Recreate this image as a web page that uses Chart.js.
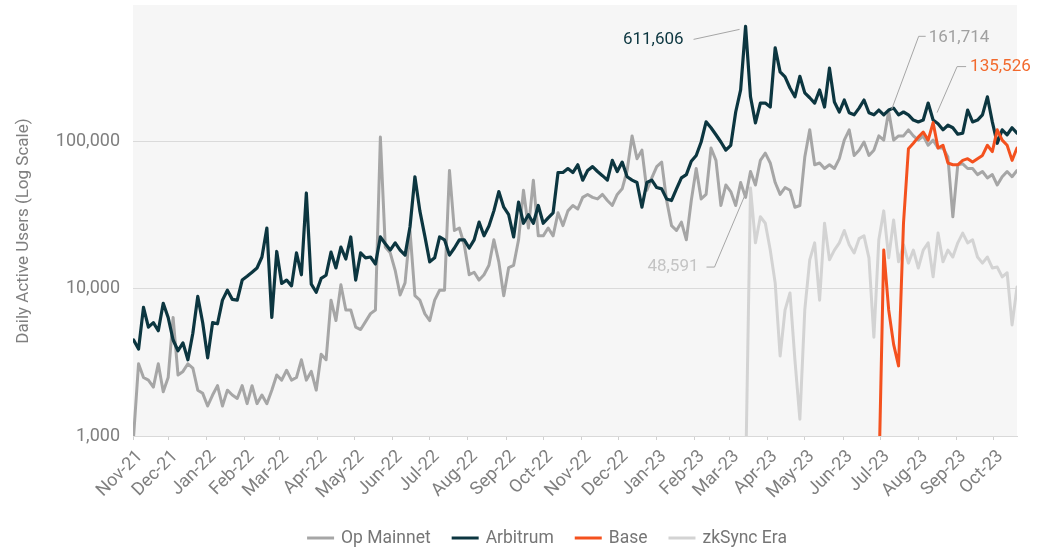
<!DOCTYPE html>
<html>
<head>
<meta charset="utf-8">
<script src="https://cdn.jsdelivr.net/npm/chart.js@4.4.1/dist/chart.umd.min.js"></script>
<style>
  html, body { margin: 0; padding: 0; background: #ffffff; }
  #wrap { width: 1047px; height: 552px; position: relative; }
</style>
</head>
<body>
<div id="wrap"><canvas id="chart" width="1047" height="552"></canvas></div>
<script>
// ---------------- DATA ----------------
const seriesNames = ['Op Mainnet', 'Arbitrum', 'Base', 'zkSync Era'];
const monthTickLabels = ['Nov-21','Dec-21','Jan-22','Feb-22','Mar-22','Apr-22','May-22','Jun-22','Jul-22','Aug-22','Sep-22','Oct-22',
                         'Nov-22','Dec-22','Jan-23','Feb-23','Mar-23','Apr-23','May-23','Jun-23','Jul-23','Aug-23','Sep-23','Oct-23'];
const yTickValues = [1000, 10000, 100000];
const axisOrigin = '2021-11-01';
const firstSampleDate = '2021-11-03';
const sampleStepDays = 4;

const opMainnet = [
  1000,3100,2500,2400,2150,3100,2000,2500,6400,2600,
  2750,3100,2900,2050,1950,1600,1900,2200,1600,2050,
  1900,1800,2200,1660,2200,1660,1900,1660,2050,2600,
  2400,2800,2400,2500,3300,2400,2750,2050,3600,3300,
  8400,6100,10700,7200,7200,5500,5300,6000,6800,7200,
  108000,19300,17600,13400,9100,11000,25000,9000,8400,6800,
  6100,8400,9800,9800,64000,25000,26000,20000,12500,13000,
  11500,12500,14500,21600,15300,9000,14000,14500,21600,47000,
  26000,55000,23000,23000,26000,23000,33000,27000,34000,37000,
  35000,42000,44000,42000,41000,44000,40000,37000,44000,48000,
  64000,110000,77000,88000,47000,57000,68000,73000,40000,27000,
  25000,28500,21600,40000,66000,41000,44000,91000,75000,37000,
  51000,46000,37000,53000,42000,63000,51000,75000,84000,72000,
  53000,44000,49000,47000,36000,37000,79000,121000,70000,72000,
  66000,70000,66000,77000,103000,121000,81000,88000,100000,81000,
  88000,110000,103000,161714,103000,110000,110000,121000,110000,103000,
  110000,95000,103000,91000,91000,79000,31000,70000,71000,66000,
  66000,60000,63000,57000,60000,51000,58000,63000,58000,64000
];

const arbitrum = [
  4500,3900,7500,5500,5900,5200,8000,6400,4500,3800,
  4300,3300,5000,8900,5900,3400,5900,5800,8400,9800,
  8500,8400,11500,12200,13000,13900,16500,26000,6400,18000,
  10900,11500,10500,17600,12500,45000,10800,9500,11800,12400,
  17800,13900,19300,16000,22600,11500,17600,16300,16500,14800,
  22600,20300,18400,20600,18400,17000,26400,58000,34000,23000,
  15300,16300,22600,21600,17000,19000,21600,21600,19000,21600,
  28500,23000,26800,34000,46000,36000,32000,22600,39000,28000,
  32000,28000,37000,28000,30500,33000,62000,62000,66000,62000,
  70000,55000,64000,68000,63000,59000,55000,75000,63000,73000,
  58000,55000,53000,36000,53000,55000,49000,48000,41000,40000,
  48000,57000,60000,74000,81000,100000,137000,125000,112000,100000,
  88000,95000,160000,226000,611606,203000,135000,184000,184000,173000,
  437000,300000,277000,233000,203000,280000,216000,200000,184000,226000,
  173000,318000,187000,160000,193000,158000,153000,170000,193000,158000,
  153000,165000,153000,165000,170000,153000,160000,153000,141000,137000,
  141000,184000,141000,133000,121000,130000,125000,113000,115000,165000,
  137000,141000,153000,203000,137000,98000,121000,112000,125000,115000
];

const baseStartSample = 151;
const base = [
  500,18400,7200,4200,3000,28000,90000,98000,108000,117000,
  103000,135526,91000,95000,72000,70000,70000,75000,77000,73000,
  77000,81000,95000,86000,121000,103000,95000,75000,91000
];

const zkSyncStartSample = 124;
const zkSyncEra = [
  500,48591,20600,31000,28000,18400,11000,3500,7200,9400,
  3300,1300,7200,15800,20600,8400,28000,15800,18400,20600,
  25000,20000,17600,22000,23000,16300,4700,21600,34000,16300,
  29500,15300,20000,15000,18400,13900,18400,20600,12100,24000,
  15300,18400,16500,20600,24000,20600,21600,16500,15000,16500,
  13900,14100,12100,12900,5700,10300
];

// ---------------- HELPERS ----------------
const DAY_MS = 86400000;
const originMs = Date.parse(axisOrigin + 'T00:00:00Z');
const dayOf = (iso) => Math.round((Date.parse(iso + 'T00:00:00Z') - originMs) / DAY_MS);
const firstSampleDay = dayOf(firstSampleDate);
const toPoints = (values, startSample) =>
  values.map((v, j) => ({ x: firstSampleDay + (startSample + j) * sampleStepDays, y: v }));
const originDate = new Date(originMs);
const monthTickDays = monthTickLabels.map((_, k) =>
  Math.round((Date.UTC(originDate.getUTCFullYear(), originDate.getUTCMonth() + k, 1) - originMs) / DAY_MS));

const FONT = 'Roboto, "Liberation Sans", sans-serif';
const colors = {
  op: '#a6a6a6',
  arb: '#0c3640',
  base: '#f4511e',
  zk: '#d3d3d3'
};

// ---------------- PLUGINS ----------------
const plotBackground = {
  id: 'plotBackground',
  beforeDraw(chart) {
    const { ctx, chartArea: a } = chart;
    ctx.save();
    ctx.fillStyle = '#f6f6f6';
    ctx.fillRect(a.left, a.top, a.right - a.left, a.bottom - a.top);
    ctx.restore();
  }
};

const yTitle = {
  id: 'yTitle',
  afterDraw(chart) {
    const ctx = chart.ctx;
    ctx.save();
    ctx.translate(24, 231);
    ctx.rotate(-Math.PI / 2);
    ctx.font = '17px ' + FONT;
    ctx.fillStyle = '#7f7f7f';
    ctx.textAlign = 'center';
    ctx.textBaseline = 'middle';
    ctx.fillText('Daily Active Users (Log Scale)', 0, 0);
    ctx.restore();
  }
};

const bottomLegend = {
  id: 'bottomLegend',
  afterDraw(chart) {
    const ctx = chart.ctx;
    ctx.save();
    ctx.font = '17.5px ' + FONT;
    const lineW = 27, gap = 7, itemGap = 21, cy = 538, cx = 547;
    const items = chart.data.datasets.map(ds => ({ label: ds.label, color: ds.borderColor, w: ctx.measureText(ds.label).width }));
    const total = items.reduce((s, it) => s + lineW + gap + it.w, 0) + itemGap * (items.length - 1);
    let x = cx - total / 2;
    items.forEach(it => {
      ctx.strokeStyle = it.color;
      ctx.lineWidth = 3;
      ctx.beginPath();
      ctx.moveTo(x, cy);
      ctx.lineTo(x + lineW, cy);
      ctx.stroke();
      ctx.fillStyle = '#767676';
      ctx.textAlign = 'left';
      ctx.textBaseline = 'middle';
      ctx.fillText(it.label, x + lineW + gap, cy + 1);
      x += lineW + gap + it.w + itemGap;
    });
    ctx.restore();
  }
};

// callouts for each series maximum (offsets relative to the max point)
const callouts = [
  { dataset: 1, color: '#0c3640', align: 'right', text: [-62, 13], leader: [[-52, 13], [-6, 3]] },
  { dataset: 0, color: '#a0a0a0', align: 'left',  text: [40, -74], leader: [[37, -75], [30, -75], [3, -2]] },
  { dataset: 2, color: '#f26a2e', align: 'left',  text: [37, -56], leader: [[33, -56], [24, -56], [4, -10]] },
  { dataset: 3, color: '#c4c4c4', align: 'right', text: [-52, 79], leader: [[-44, 79], [-36, 79], [-3, 1]] }
];

const maxLabels = {
  id: 'maxLabels',
  afterDatasetsDraw(chart) {
    const ctx = chart.ctx;
    const xs = chart.scales.x, ys = chart.scales.y;
    ctx.save();
    callouts.forEach(c => {
      const data = chart.data.datasets[c.dataset].data;
      let best = data[0];
      data.forEach(p => { if (p.y > best.y) best = p; });
      const px = xs.getPixelForValue(best.x), py = ys.getPixelForValue(best.y);
      ctx.strokeStyle = '#a6a6a6';
      ctx.lineWidth = 1;
      ctx.beginPath();
      c.leader.forEach((o, k) => {
        if (k === 0) ctx.moveTo(px + o[0], py + o[1]); else ctx.lineTo(px + o[0], py + o[1]);
      });
      ctx.stroke();
      ctx.font = '17px ' + FONT;
      ctx.fillStyle = c.color;
      ctx.textAlign = c.align;
      ctx.textBaseline = 'middle';
      ctx.fillText(best.y.toLocaleString('en-US'), px + c.text[0], py + c.text[1]);
    });
    ctx.restore();
  }
};

// ---------------- CHART ----------------
const lineDs = (label, values, start, color, width, order) => ({
  label, data: toPoints(values, start), borderColor: color, backgroundColor: color,
  borderWidth: width, pointRadius: 0, pointHoverRadius: 0, tension: 0, fill: false, order,
  borderJoinStyle: 'round', borderCapStyle: 'round'
});

const zeroPad = (scale) => {
  scale.paddingTop = 0; scale.paddingBottom = 0; scale.paddingLeft = 0; scale.paddingRight = 0;
};

new Chart(document.getElementById('chart'), {
  type: 'line',
  data: {
    datasets: [
      lineDs(seriesNames[0], opMainnet, 0, colors.op, 3, 2),
      lineDs(seriesNames[1], arbitrum, 0, colors.arb, 3.2, 1),
      lineDs(seriesNames[2], base, baseStartSample, colors.base, 3, 0),
      lineDs(seriesNames[3], zkSyncEra, zkSyncStartSample, colors.zk, 3, 3)
    ]
  },
  options: {
    responsive: false,
    devicePixelRatio: 1,
    animation: false,
    layout: { padding: { top: 5, right: 30, bottom: 0, left: 0 } },
    plugins: { legend: { display: false }, tooltip: { enabled: false } },
    scales: {
      x: {
        type: 'linear',
        min: 1.5,
        max: 718,
        afterBuildTicks: (scale) => {
          scale.ticks = monthTickDays.map(d => ({ value: Math.max(d, scale.min) }));
        },
        afterFit: (scale) => { scale.height = 116; zeroPad(scale); },
        ticks: {
          autoSkip: false,
          minRotation: 45,
          maxRotation: 45,
          padding: 6,
          labelOffset: 7,
          color: '#7f7f7f',
          font: { family: FONT, size: 18 },
          callback: (v, i) => monthTickLabels[i]
        },
        grid: { drawOnChartArea: false, drawTicks: true, tickLength: 4, color: '#d0d0d0' },
        border: { display: true, color: '#d9d9d9', width: 1 }
      },
      y: {
        type: 'logarithmic',
        min: 1000,
        max: 855000,
        afterBuildTicks: (scale) => { scale.ticks = yTickValues.map(v => ({ value: v })); },
        afterFit: (scale) => { scale.width = 133; zeroPad(scale); },
        ticks: {
          padding: 13,
          color: '#7f7f7f',
          font: { family: FONT, size: 18 },
          callback: (v) => Number(v).toLocaleString('en-US')
        },
        grid: { drawTicks: false, color: '#dadada', lineWidth: 1 },
        border: { display: false }
      }
    }
  },
  plugins: [plotBackground, yTitle, bottomLegend, maxLabels]
});
</script>
</body>
</html>
